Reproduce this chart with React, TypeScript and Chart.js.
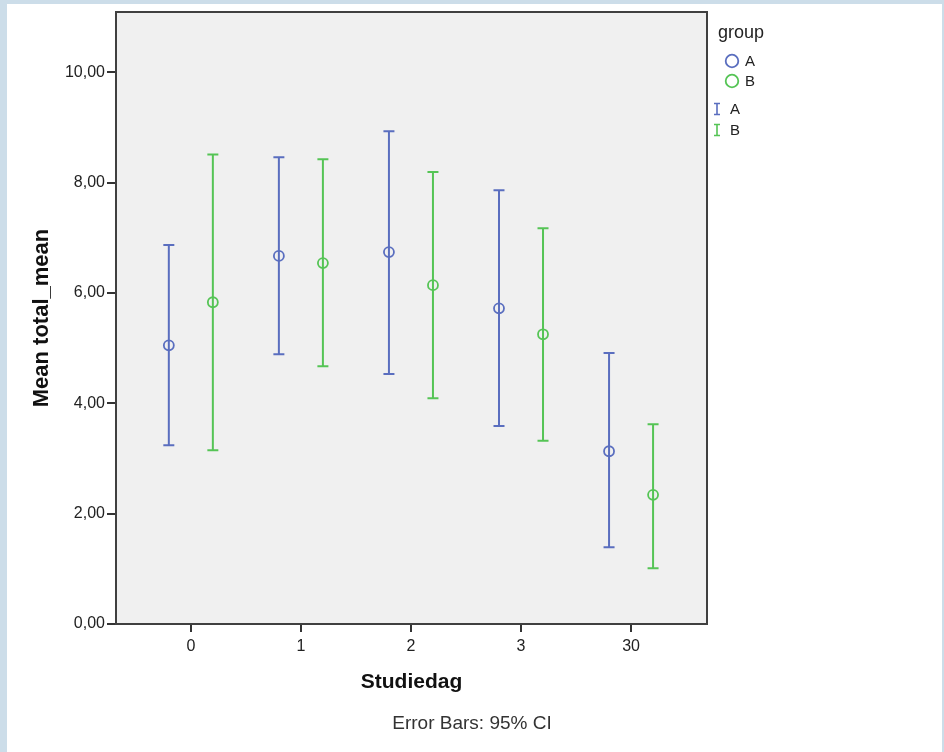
import { useEffect, useRef } from "react";
import { Chart, registerables } from "chart.js";

Chart.register(...registerables);

const days = ["0", "1", "2", "3", "30"];
const groupNames = ["A", "B"];
const meanA = [5.05, 6.67, 6.74, 5.72, 3.13];
const lowerA = [3.24, 4.89, 4.53, 3.59, 1.39];
const upperA = [6.87, 8.46, 8.93, 7.86, 4.91];
const meanB = [5.83, 6.54, 6.14, 5.25, 2.34];
const lowerB = [3.15, 4.67, 4.09, 3.32, 1.01];
const upperB = [8.51, 8.42, 8.19, 7.17, 3.62];
const yTicks = [0, 2, 4, 6, 8, 10];
const groupOffsets = [-0.2, 0.2];
const groupColors = ["#5a6ebf", "#55c455"];

const FONT = "'Liberation Sans', Arial, Helvetica, sans-serif";

const series = [
  { name: groupNames[0], mean: meanA, lower: lowerA, upper: upperA, offset: groupOffsets[0], color: groupColors[0] },
  { name: groupNames[1], mean: meanB, lower: lowerB, upper: upperB, offset: groupOffsets[1], color: groupColors[1] },
];

const W = 944;
const H = 752;

const backgroundPlugin = {
  id: "bgPanel",
  beforeDraw(chart: any) {
    const { ctx, chartArea } = chart;
    ctx.save();
    ctx.fillStyle = "#ccdde9";
    ctx.fillRect(0, 0, W, H);
    ctx.fillStyle = "#ffffff";
    ctx.fillRect(7, 4, 935, H - 4);
    ctx.fillStyle = "#f0f0f0";
    ctx.fillRect(chartArea.left, chartArea.top, chartArea.right - chartArea.left, chartArea.bottom - chartArea.top);
    ctx.restore();
  },
};

const errorBarPlugin = {
  id: "errorBars",
  beforeDatasetsDraw(chart: any) {
    const { ctx } = chart;
    const x = chart.scales.x;
    const y = chart.scales.y;
    series.forEach((s) => {
      ctx.save();
      ctx.strokeStyle = s.color;
      ctx.lineWidth = 2;
      s.mean.forEach((_m, i) => {
        const px = x.getPixelForValue(i + s.offset);
        const yl = y.getPixelForValue(s.lower[i]);
        const yu = y.getPixelForValue(s.upper[i]);
        ctx.beginPath();
        ctx.moveTo(px, yl);
        ctx.lineTo(px, yu);
        ctx.moveTo(px - 5.5, yu);
        ctx.lineTo(px + 5.5, yu);
        ctx.moveTo(px - 5.5, yl);
        ctx.lineTo(px + 5.5, yl);
        ctx.stroke();
      });
      ctx.restore();
    });
  },
};

const framePlugin = {
  id: "frameLegend",
  afterDraw(chart: any) {
    const { ctx, chartArea } = chart;
    ctx.save();
    // frame
    ctx.strokeStyle = "#404040";
    ctx.lineWidth = 2;
    ctx.strokeRect(chartArea.left, chartArea.top, chartArea.right - chartArea.left, chartArea.bottom - chartArea.top);

    // legend
    ctx.fillStyle = "#222222";
    ctx.textBaseline = "middle";
    ctx.textAlign = "left";
    ctx.font = `18px ${FONT}`;
    ctx.fillText("group", 718, 33);
    ctx.font = `15px ${FONT}`;
    series.forEach((s, i) => {
      const cy = 61 + i * 20;
      ctx.strokeStyle = s.color;
      ctx.lineWidth = 1.8;
      ctx.beginPath();
      ctx.arc(732, cy, 6.3, 0, Math.PI * 2);
      ctx.stroke();
      ctx.fillStyle = "#222222";
      ctx.fillText(s.name, 745, cy + 1);
    });
    series.forEach((s, i) => {
      const cy = 109 + i * 21;
      ctx.strokeStyle = s.color;
      ctx.lineWidth = 1.6;
      ctx.beginPath();
      ctx.moveTo(717, cy - 5.5);
      ctx.lineTo(717, cy + 5.5);
      ctx.moveTo(714, cy - 5.5);
      ctx.lineTo(720, cy - 5.5);
      ctx.moveTo(714, cy + 5.5);
      ctx.lineTo(720, cy + 5.5);
      ctx.stroke();
      ctx.fillStyle = "#222222";
      ctx.fillText(s.name, 730, cy + 1);
    });

    // footer
    ctx.textAlign = "center";
    ctx.font = `19px ${FONT}`;
    ctx.fillStyle = "#333333";
    ctx.fillText("Error Bars: 95% CI", 472, 724);
    ctx.restore();
  },
};

export default function App() {
  const canvasRef = useRef<HTMLCanvasElement | null>(null);

  useEffect(() => {
    const canvas = canvasRef.current;
    if (!canvas) return;
    const chart = new Chart(canvas, {
      type: "scatter",
      data: {
        datasets: series.map((s) => ({
          label: s.name,
          data: s.mean.map((m, i) => ({ x: i + s.offset, y: m })),
          borderColor: s.color,
          backgroundColor: "rgba(0,0,0,0)",
          pointStyle: "circle",
          pointRadius: 5,
          pointHoverRadius: 5,
          pointBorderWidth: 1.8,
          showLine: false,
        })),
      },
      options: {
        responsive: false,
        animation: false,
        events: [],
        layout: { padding: { left: 0, top: 12, right: W - 707, bottom: 0 } },
        plugins: {
          legend: { display: false },
          tooltip: { enabled: false },
          title: { display: false },
        },
        scales: {
          x: {
            type: "linear",
            min: -0.68,
            max: 4.69,
            afterBuildTicks: (scale: any) => {
              scale.ticks = days.map((_d, i) => ({ value: i }));
            },
            afterFit: (scale: any) => {
              scale.height = H - 624;
            },
            ticks: {
              autoSkip: false,
              maxRotation: 0,
              padding: 5,
              color: "#222222",
              font: { family: FONT, size: 16 },
              callback: (_v: any, index: number) => days[index],
            },
            grid: {
              display: true,
              drawOnChartArea: false,
              drawTicks: true,
              tickLength: 8,
              color: "#333333",
              lineWidth: 2,
            },
            border: { display: false },
            title: {
              display: true,
              text: "Studiedag",
              color: "#111111",
              font: { family: FONT, size: 21, weight: "bold" },
              padding: { top: 0, bottom: 57 },
            },
          },
          y: {
            type: "linear",
            min: 0,
            max: 11.09,
            afterBuildTicks: (scale: any) => {
              scale.ticks = yTicks.map((v) => ({ value: v }));
            },
            afterFit: (scale: any) => {
              scale.width = 116;
            },
            ticks: {
              autoSkip: false,
              padding: 2,
              color: "#222222",
              font: { family: FONT, size: 16 },
              callback: (v: any) => Number(v).toFixed(2).replace(".", ","),
            },
            grid: {
              display: true,
              drawOnChartArea: false,
              drawTicks: true,
              tickLength: 9,
              color: "#333333",
              lineWidth: 2,
            },
            border: { display: false },
            title: {
              display: true,
              text: "Mean total_mean",
              color: "#111111",
              font: { family: FONT, size: 22, weight: "bold" },
              padding: { top: 29, bottom: 0 },
            },
          },
        },
      },
      plugins: [backgroundPlugin, errorBarPlugin, framePlugin],
    });
    return () => chart.destroy();
  }, []);

  return (
    <div style={{ position: "fixed", left: 0, top: 0, width: W, height: H }}>
      <canvas ref={canvasRef} width={W} height={H} style={{ width: W, height: H, display: "block" }} />
    </div>
  );
}
